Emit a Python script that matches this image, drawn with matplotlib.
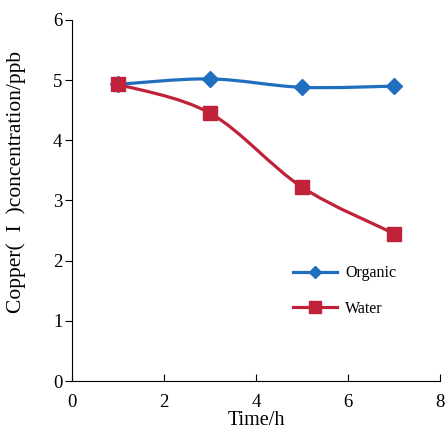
import numpy as np
import matplotlib.pyplot as plt
from matplotlib.path import Path
from matplotlib.patches import PathPatch
from matplotlib.lines import Line2D

time_h = [1, 3, 5, 7]
organic = [4.93, 5.02, 4.88, 4.90]
water = [4.93, 4.45, 3.22, 2.45]

BLUE = '#1f6fbe'
RED = '#c0223a'

plt.rcParams['font.family'] = ['Liberation Serif', 'DejaVu Serif']


def smooth_path(x, y):
    """Catmull-Rom curve through the points as cubic Bezier segments."""
    pts = np.column_stack([x, y]).astype(float)
    verts = [pts[0]]
    codes = [Path.MOVETO]
    n = len(pts)
    for i in range(n - 1):
        p0 = pts[max(i - 1, 0)]
        p1 = pts[i]
        p2 = pts[i + 1]
        p3 = pts[min(i + 2, n - 1)]
        c1 = p1 + (p2 - p0) / 6.0
        c2 = p2 - (p3 - p1) / 6.0
        verts += [c1, c2, p2]
        codes += [Path.CURVE4] * 3
    return Path(verts, codes)


fig = plt.figure(figsize=(4.45, 4.33), dpi=100)
ax = fig.add_axes([0.162, 0.12, 0.827, 0.834])

for ys, color, marker, ms, label in [(organic, BLUE, 'D', 8, 'Organic'),
                                     (water, RED, 's', 10.5, 'Water')]:
    ax.add_patch(PathPatch(smooth_path(time_h, ys), fill=False, edgecolor=color,
                           lw=2.3, zorder=2))
    ax.plot(time_h, ys, ls='none', marker=marker, ms=ms, color=color, zorder=3)

ax.set_xlim(0, 8)
ax.set_ylim(0, 6)
ax.set_xticks([0, 2, 4, 6, 8])
ax.set_yticks([0, 1, 2, 3, 4, 5, 6])
ax.spines['top'].set_visible(False)
ax.spines['right'].set_visible(False)
ax.tick_params(axis='x', direction='in', length=5, labelsize=13.5, pad=9)
ax.tick_params(axis='y', direction='out', length=5, labelsize=13.5, pad=2)
ax.set_xlabel('Time/h', fontsize=14.5, labelpad=0)
ax.set_ylabel('Copper(  I  )concentration/ppb', fontsize=15.5, va='center')
ax.yaxis.set_label_coords(-0.152, 0.55)

handles = [Line2D([], [], color=BLUE, lw=2.3, marker='D', ms=6),
           Line2D([], [], color=RED, lw=2.3, marker='s', ms=9)]
ax.legend(handles, ['Organic', 'Water'], loc='upper left',
          bbox_to_anchor=(0.56, 0.36), frameon=False, fontsize=11.5,
          handlelength=2.8, labelspacing=1.2, handletextpad=0.5)

fig.savefig('out.png', dpi=100)
